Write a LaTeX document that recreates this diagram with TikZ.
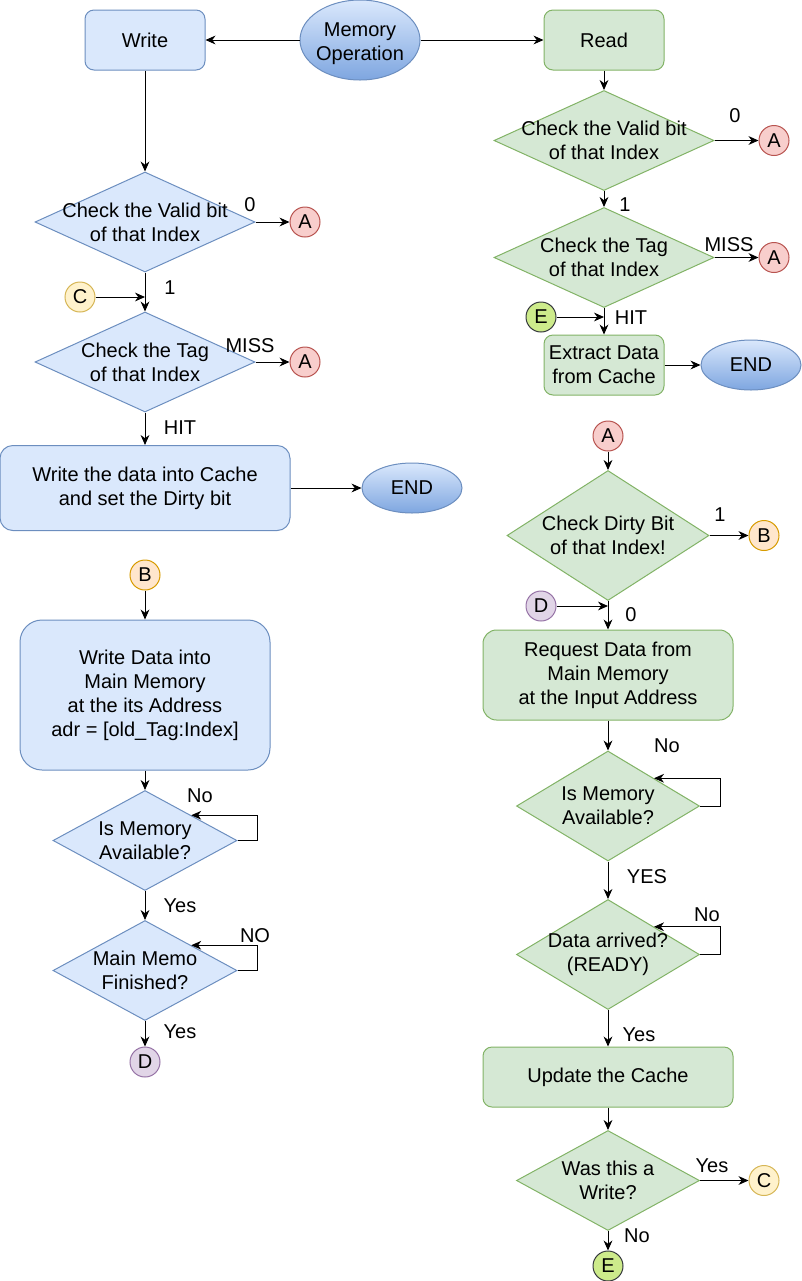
\documentclass[tikz,border=0pt]{standalone}
\usepackage{fontspec}
\setmainfont{Liberation Sans}
\usetikzlibrary{shapes.geometric}
\usetikzlibrary{arrows.meta}
\usetikzlibrary{calc}

\definecolor{bluefill}{HTML}{DAE8FC}
\definecolor{bluedraw}{HTML}{6C8EBF}
\definecolor{bluedark}{HTML}{7EA6E0}
\definecolor{greenfill}{HTML}{D5E8D4}
\definecolor{greendraw}{HTML}{82B366}
\definecolor{redfill}{HTML}{F8CECC}
\definecolor{reddraw}{HTML}{B85450}
\definecolor{orangefill}{HTML}{FFE6CC}
\definecolor{orangedraw}{HTML}{D79B00}
\definecolor{yellowfill}{HTML}{FFF2CC}
\definecolor{yellowdraw}{HTML}{D6B656}
\definecolor{purplefill}{HTML}{E1D5E7}
\definecolor{purpledraw}{HTML}{9673A6}
\definecolor{limefill}{HTML}{CDEB8B}
\definecolor{limedraw}{HTML}{36393D}

\begin{document}
\begin{tikzpicture}[x=0.5pt, y=-0.5pt, font=\fontsize{10}{12}\selectfont,
    blk/.style={draw=bluedraw, fill=bluefill, line width=0.5pt},
    grn/.style={draw=greendraw, fill=greenfill, line width=0.5pt},
    box/.style={rectangle, rounded corners=4.5pt, align=center, inner sep=0pt},
    dec/.style={diamond, inner sep=0pt, label={[align=center]center:#1}},
    term/.style={ellipse, draw=bluedraw, top color=bluefill, bottom color=bluedark, line width=0.5pt, inner sep=0pt, minimum width=50pt, minimum height=25pt},
    con/.style={circle, minimum size=15pt, inner sep=0pt, line width=0.5pt},
    ca/.style={con, draw=reddraw, fill=redfill},
    cb/.style={con, draw=orangedraw, fill=orangefill},
    cc/.style={con, draw=yellowdraw, fill=yellowfill},
    cd/.style={con, draw=purpledraw, fill=purplefill},
    ce/.style={con, draw=limedraw, fill=limefill},
    lbl/.style={inner sep=0pt},
    arr/.style={-{Stealth[length=5pt, width=4.4pt, inset=1.6pt]}, line width=0.5pt}]
    \useasboundingbox (0,0) rectangle (802,1281);

    % top row
    \node[term, minimum width=60pt, minimum height=40pt, label={[align=center, yshift=-1.8pt]center:Memory\\Operation}] (memop) at (360,40) {};
    \node[box, blk, minimum width=60pt, minimum height=30pt] (write) at (145,40) {Write};
    \node[box, grn, minimum width=60pt, minimum height=30pt] (read) at (604,40) {Read};

    % write side
    \node[dec={Check the Valid bit\\of that Index}, blk, minimum width=110pt, minimum height=50pt] (wvalid) at (145,222) {};
    \node[ca] (wa1) at (305,222) {A};
    \node[lbl] (wl0) at (250,205) {0};
    \node[lbl] (wl1) at (170,288) {1};
    \node[cc] (wc) at (80,297) {C};
    \node[dec={Check the Tag\\of that Index}, blk, minimum width=110pt, minimum height=50pt] (wtag) at (145,362) {};
    \node[ca] (wa2) at (305,362) {A};
    \node[lbl] (wlmiss) at (250,346) {MISS};
    \node[lbl] (wlhit) at (180,428) {HIT};
    \node[box, blk, rounded corners=6.4pt, minimum width=145pt, minimum height=42.5pt] (wcache) at (145,488) {Write the data into Cache\\and set the Dirty bit};
    \node[term] (wend) at (412,488) {END};

    \node[cb] (wb) at (145,575) {B};
    \node[box, blk, rounded corners=11pt, minimum width=125pt, minimum height=75pt] (wmem) at (145,695) {Write Data into\\Main Memory\\at the its Address\\adr = [old\_Tag:Index]};
    \node[dec={Is Memory\\Available?}, blk, minimum width=92pt, minimum height=50pt] (wavail) at (145,840.5) {};
    \node[lbl] (wlno) at (200,796) {No};
    \node[lbl] (wlyes) at (180,906) {Yes};
    \node[dec={Main Memo\\Finished?}, blk, minimum width=92pt, minimum height=50pt] (wfin) at (145,970.5) {};
    \node[lbl] (wlno2) at (255,936) {NO};
    \node[lbl] (wlyes2) at (180,1032) {Yes};
    \node[cd] (wd) at (145,1062) {D};

    % read side
    \node[dec={Check the Valid bit\\of that Index}, grn, minimum width=110pt, minimum height=50pt] (rvalid) at (604,140.5) {};
    \node[ca] (ra1) at (774,140.5) {A};
    \node[lbl] (rl0) at (735,116) {0};
    \node[lbl] (rl1) at (625,205) {1};
    \node[dec={Check the Tag\\of that Index}, grn, minimum width=110pt, minimum height=50pt] (rtag) at (604,257.5) {};
    \node[ca] (ra2) at (774,257.5) {A};
    \node[lbl] (rlmiss) at (729,245) {MISS};
    \node[ce] (re) at (541,317) {E};
    \node[lbl] (rlhit) at (631,318) {HIT};
    \node[box, grn, minimum width=60pt, minimum height=30pt] (rext) at (604,365) {Extract Data\\from Cache};
    \node[term] (rend) at (751,365) {END};

    \node[ca] (ra3) at (608,436) {A};
    \node[dec={Check Dirty Bit\\of that Index!}, grn, minimum width=101pt, minimum height=65pt] (rdirty) at (608,535.5) {};
    \node[cb] (rb) at (764,535.5) {B};
    \node[lbl] (rl1b) at (720,515) {1};
    \node[cd] (rd) at (541,606) {D};
    \node[lbl] (rl0b) at (631,615) {0};
    \node[box, grn, rounded corners=6.75pt, minimum width=125pt, minimum height=45pt] (rreq) at (608,675) {Request Data from\\Main Memory\\at the Input Address};
    \node[dec={Is Memory\\Available?}, grn, minimum width=91.5pt, minimum height=55pt] (ravail) at (608,806) {};
    \node[lbl] (rlno) at (667,746) {No};
    \node[lbl] (rlyes) at (647,877) {YES};
    \node[dec={Data arrived?\\(READY)}, grn, minimum width=91.5pt, minimum height=55pt] (rdata) at (608,954.5) {};
    \node[lbl] (rlno2) at (707,915) {No};
    \node[lbl] (rlyes2) at (639,1035) {Yes};
    \node[box, grn, minimum width=125pt, minimum height=30pt] (rupd) at (608,1077) {Update the Cache};
    \node[dec={Was this a\\Write?}, grn, minimum width=91.5pt, minimum height=50pt] (rwas) at (608,1180.5) {};
    \node[cc] (rc) at (764,1180.5) {C};
    \node[lbl] (rlyes3) at (712,1166) {Yes};
    \node[lbl] (rlno3) at (637,1236) {No};
    \node[ce] (re2) at (608,1266) {E};

    % connectors
    \draw[arr] (memop) -- (write);
    \draw[arr] (memop) -- (read);
    \draw[arr] (write) -- (wvalid);
    \draw[arr] (wvalid) -- (wa1);
    \draw[arr] (wvalid) -- (wtag);
    \draw[arr] (wc) -- (wc -| wvalid.south);
    \draw[arr] (wtag) -- (wa2);
    \draw[arr] (wtag) -- (wcache);
    \draw[arr] (wcache) -- (wend);
    \draw[arr] (wb) -- (wmem);
    \draw[arr] (wmem) -- (wavail);
    \draw[arr] (wavail.east) -- ++(20,0) |- ($(wavail.north)!0.5!(wavail.east)$);
    \draw[arr] (wavail) -- (wfin);
    \draw[arr] (wfin.east) -- ++(20,0) |- ($(wfin.north)!0.5!(wfin.east)$);
    \draw[arr] (wfin) -- (wd);

    \draw[arr] (read) -- (rvalid);
    \draw[arr] (rvalid) -- (ra1);
    \draw[arr] (rvalid) -- (rtag);
    \draw[arr] (rtag) -- (ra2);
    \draw[arr] (rtag) -- (rext);
    \draw[arr] (re) -- (re -| rtag.south);
    \draw[arr] (rext) -- (rend);
    \draw[arr] (ra3) -- (rdirty);
    \draw[arr] (rdirty) -- (rb);
    \draw[arr] (rdirty) -- (rreq);
    \draw[arr] (rd) -- (rd -| rdirty.south);
    \draw[arr] (rreq) -- (ravail);
    \draw[arr] (ravail.east) -- ++(20,0) |- ($(ravail.north)!0.5!(ravail.east)$);
    \draw[arr] (ravail) -- (rdata);
    \draw[arr] (rdata.east) -- ++(20,0) |- ($(rdata.north)!0.5!(rdata.east)$);
    \draw[arr] (rdata) -- (rupd);
    \draw[arr] (rupd) -- (rwas);
    \draw[arr] (rwas) -- (rc);
    \draw[arr] (rwas) -- (re2);
\end{tikzpicture}
\end{document}
